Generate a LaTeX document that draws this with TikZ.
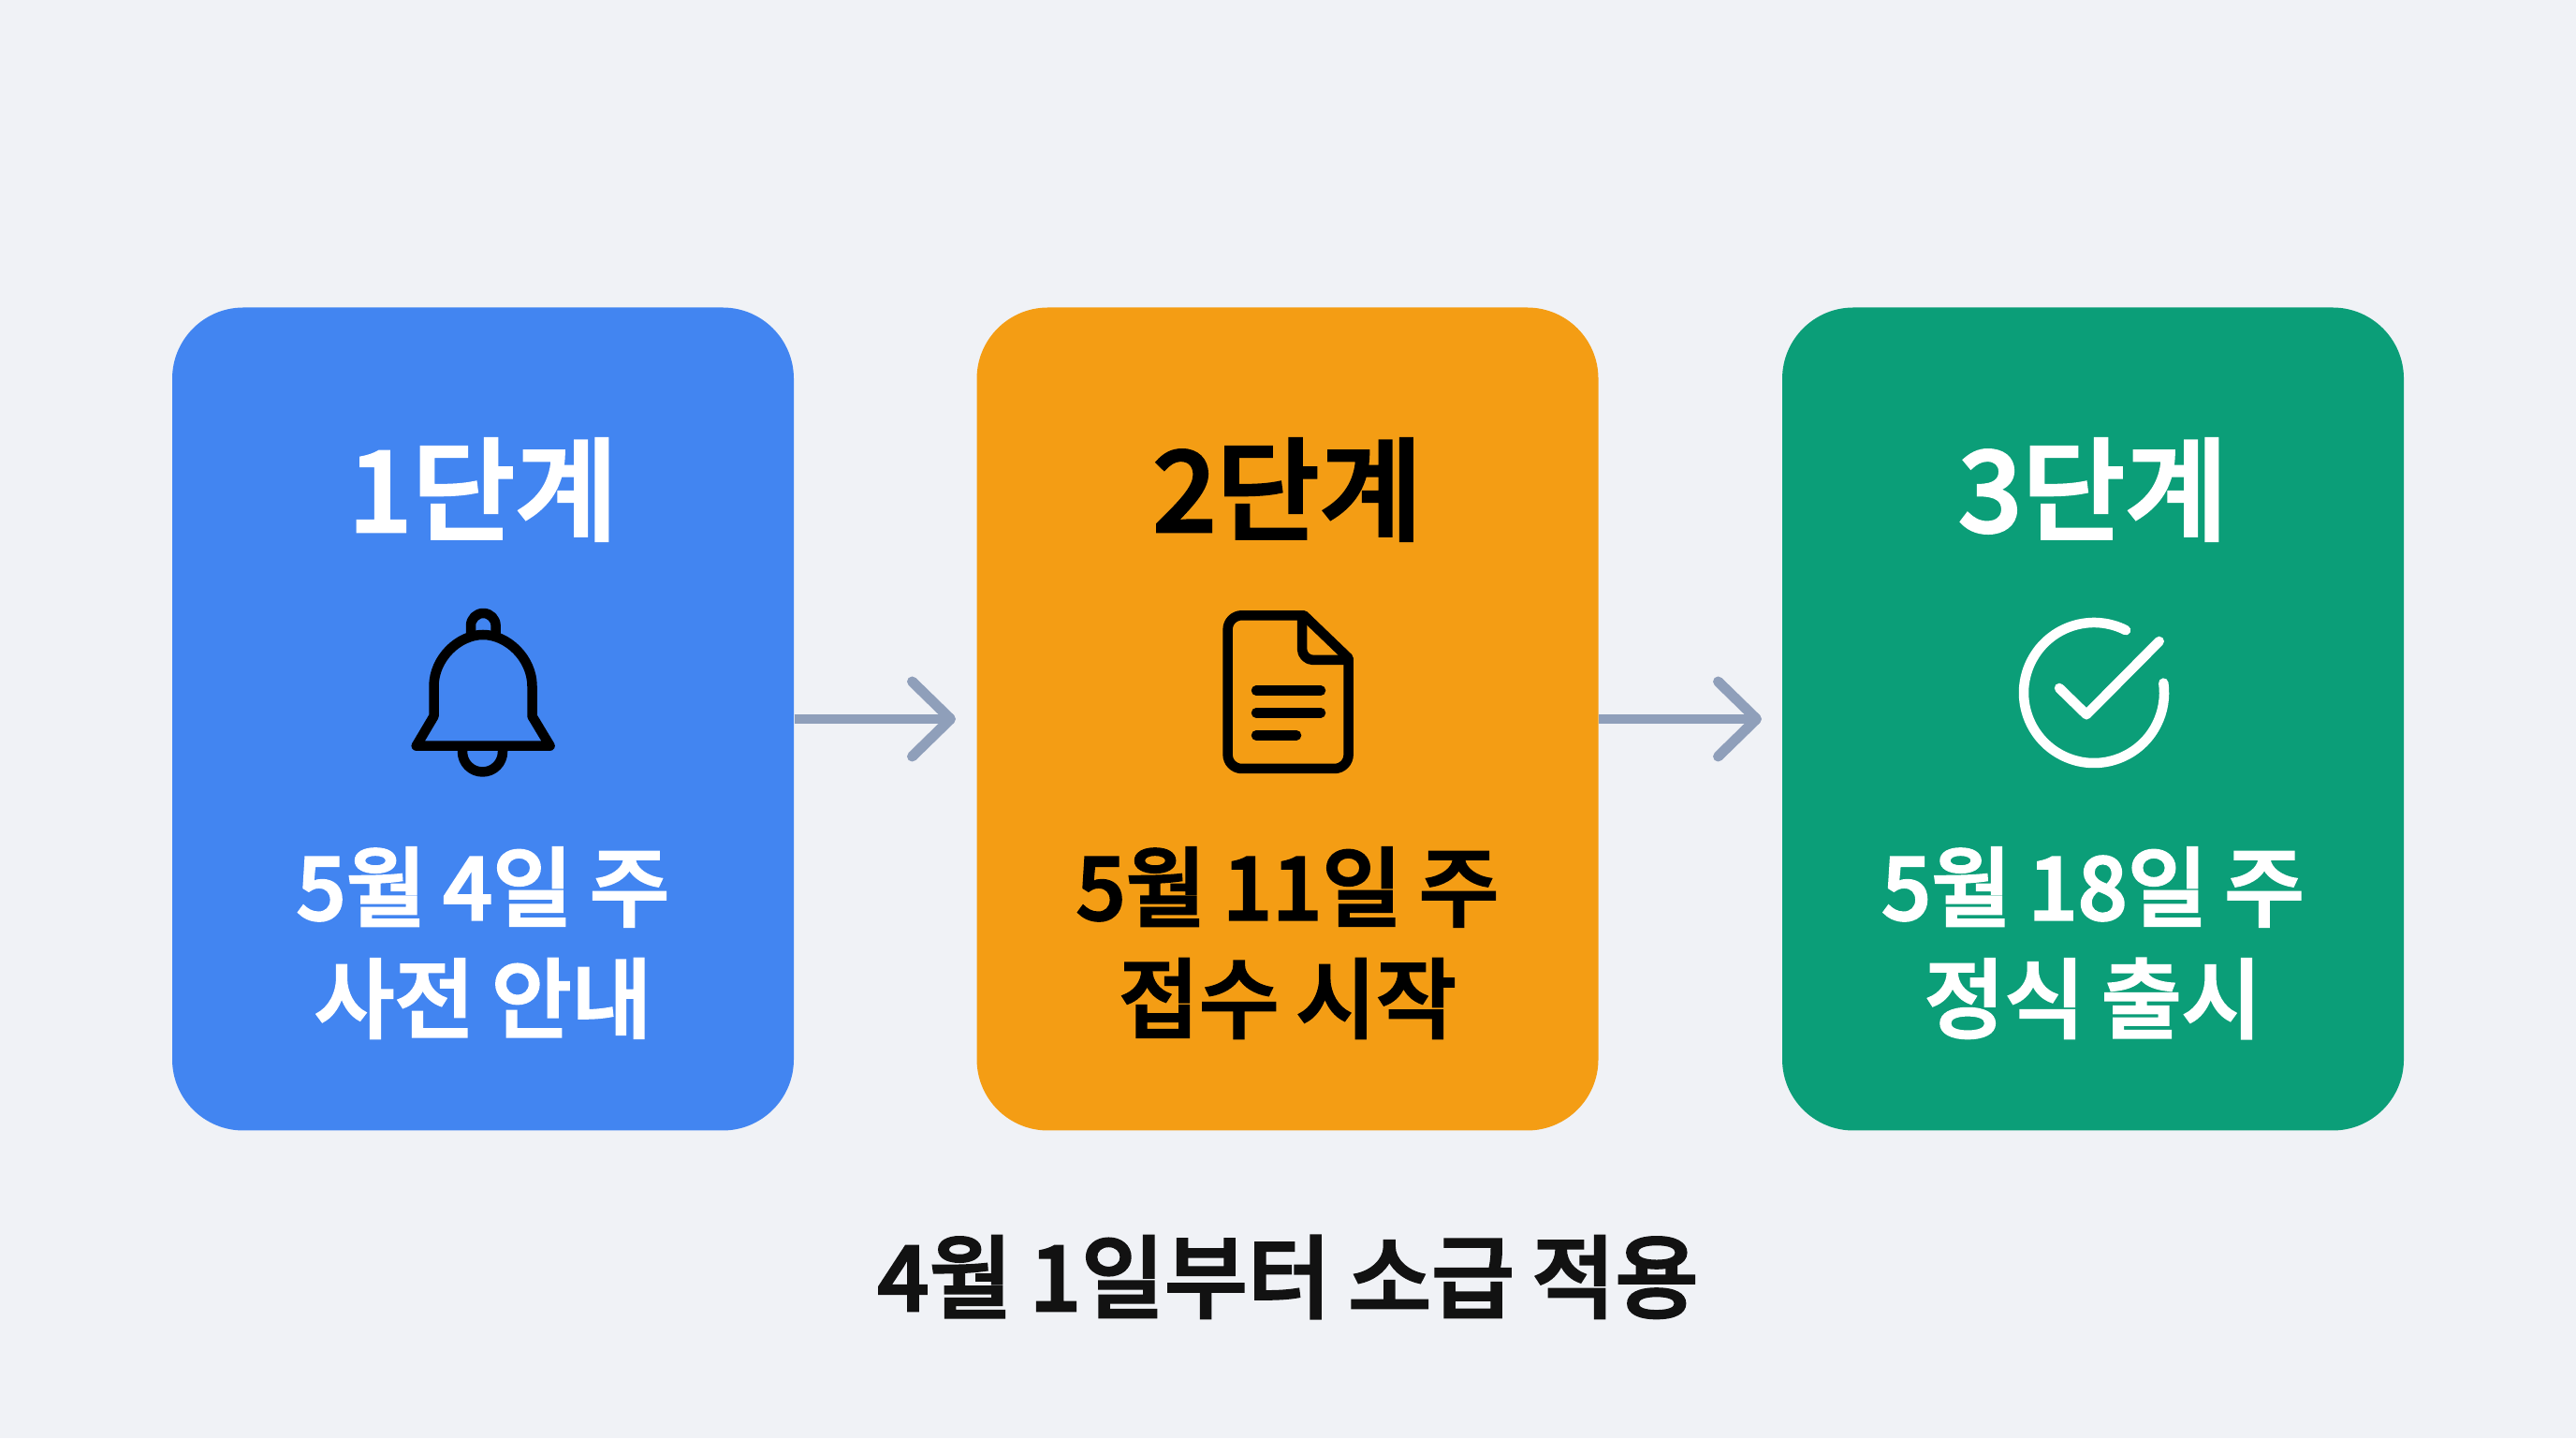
\documentclass[tikz,border=0pt]{standalone}
\usepackage{fontspec}
\setmainfont{Noto Sans CJK KR}[UprightFont=* Medium, FakeBold=2.6, WordSpace=0.85]
\usetikzlibrary{arrows.meta}
\definecolor{pagebg}{HTML}{F0F2F6}
\definecolor{stepblue}{HTML}{4285F1}
\definecolor{steporange}{HTML}{F49D14}
\definecolor{stepgreen}{HTML}{0B9E78}
\definecolor{flowgray}{HTML}{8F9FBA}
\tikzset{
	stepcard/.style={rectangle, rounded corners=0.76cm, minimum width=6.64cm, minimum height=8.79cm, inner sep=0},
	steptitle/.style={font=\fontsize{34}{36}\selectfont, inner sep=0},
	stepline/.style={font=\fontsize{26.5}{30}\selectfont, inner sep=0},
	iconline/.style={line width=1.05mm, line cap=round, line join=round},
	flowline/.style={line width=1mm, flowgray, -{Straight Barb[length=4.1mm, width=8mm, line width=1.1mm, round]}}
}
\begin{document}
\begin{tikzpicture}
			%%%%% PAGE %%%%%
			\fill[pagebg] (0, 0) rectangle (27.52, 15.36);

			%%%%% STEP 1 %%%%%
			\node[stepcard, fill=stepblue] (stepa) at (5.16, 7.68) {};
			\node[steptitle, white] (titlea) at (5.16, 10.13) {1단계};
			\node[stepline, white] (datea) at (5.16, 5.885) {5월 4일 주};
			\node[stepline, white] (texta) at (5.16, 4.695) {사전 안내};

			% bell
			\draw[iconline] (4.635, 7.71) -- (4.635, 8.03) .. controls (4.635, 8.33) and (4.90, 8.58) .. (5.16, 8.58)
				.. controls (5.42, 8.58) and (5.685, 8.33) .. (5.685, 8.03) -- (5.685, 7.71) -- (5.876, 7.393) -- (4.447, 7.393) -- cycle;
			\draw[iconline] (5.03, 8.58) -- (5.03, 8.677) arc (180:0:0.133) -- (5.296, 8.58);
			\draw[iconline] (4.94, 7.36) -- (4.94, 7.33) arc (180:360:0.215) -- (5.37, 7.36);

			%%%%% STEP 2 %%%%%
			\node[stepcard, fill=steporange] (stepb) at (13.755, 7.68) {};
			\node[steptitle, black] (titleb) at (13.755, 10.13) {2단계};
			\node[stepline, black] (dateb) at (13.755, 5.885) {5월 11일 주};
			\node[stepline, black] (textb) at (13.755, 4.695) {접수 시작};

			% sheet of paper
			\draw[iconline] (13.93, 8.787) [rounded corners=0.15cm] -- (13.116, 8.787) -- (13.116, 7.15) -- (14.406, 7.15)
				[sharp corners] -- (14.406, 8.33) -- cycle;
			\draw[iconline, rounded corners=0.12cm] (13.91, 8.76) -- (13.91, 8.31) -- (14.406, 8.31);
			\draw[iconline] (13.42, 7.983) -- (14.11, 7.983);
			\draw[iconline] (13.42, 7.747) -- (14.11, 7.747);
			\draw[iconline] (13.42, 7.507) -- (13.85, 7.507);

			%%%%% STEP 3 %%%%%
			\node[stepcard, fill=stepgreen] (stepc) at (22.36, 7.68) {};
			\node[steptitle, white] (titlec) at (22.36, 10.13) {3단계};
			\node[stepline, white] (datec) at (22.36, 5.885) {5월 18일 주};
			\node[stepline, white] (textc) at (22.36, 4.695) {정식 출시};

			% check mark
			\draw[iconline, white] (22.37, 7.96) ++(63:0.75) arc (63:368:0.75);
			\draw[iconline, white] (22.00, 8.01) -- (22.29, 7.727) -- (23.067, 8.51);

			%%%%% ARROWS %%%%%
			\coordinate (tipa) at (10.21, 7.68);
			\coordinate (tipb) at (18.82, 7.68);
			\draw[flowline] (stepa.east) -- (tipa);
			\draw[flowline] (stepb.east) -- (tipb);

			%%%%% FOOT %%%%%
			\node[font=\fontsize{27.5}{30}\selectfont, inner sep=0, black!93] (footline) at (13.76, 1.72) {4월 1일부터 소급 적용};
		\end{tikzpicture}
\end{document}
